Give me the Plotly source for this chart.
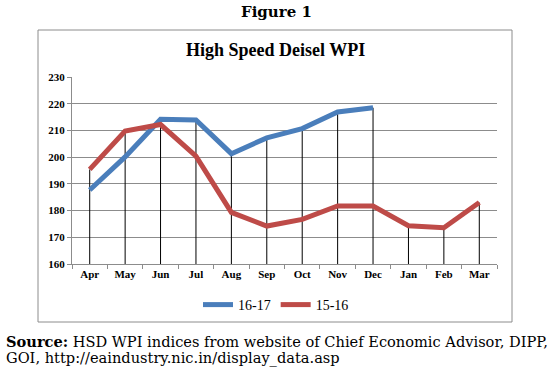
import plotly.graph_objects as go

months = ["Apr", "May", "Jun", "Jul", "Aug", "Sep", "Oct", "Nov", "Dec", "Jan", "Feb", "Mar"]
wpi_1617 = [187.7, 200.1, 214.2, 213.9, 201.3, 207.2, 210.7, 216.9, 218.5]
wpi_1516 = [195.4, 209.8, 212.2, 200.4, 179.3, 174.2, 176.7, 181.7, 181.7, 174.3, 173.6, 183.0]
y_ticks = [160, 170, 180, 190, 200, 210, 220, 230]

W, H = 550, 372
L, R, T, B = 72, 53, 77, 108
pw, ph = W - L - R, H - T - B

def px_x(p):
    return (p - L) / pw

def px_y(p):
    return (H - B - p) / ph

fig = go.Figure()

# drop lines from each point down to the axis
base = y_ticks[0]
for i, m in enumerate(months):
    vals = [wpi_1516[i]]
    if i < len(wpi_1617):
        vals.append(wpi_1617[i])
    fig.add_trace(go.Scatter(x=[m, m], y=[base, max(vals)], mode="lines",
                             line=dict(color="black", width=1),
                             showlegend=False, hoverinfo="skip"))

fig.add_trace(go.Scatter(x=months[:len(wpi_1617)], y=wpi_1617, mode="lines", name="16-17",
                         line=dict(color="#4A7EBB", width=5)))
fig.add_trace(go.Scatter(x=months, y=wpi_1516, mode="lines", name="15-16",
                         line=dict(color="#BE4B48", width=5)))

serif = "Liberation Serif, Times New Roman, serif"
tickfont = dict(family=serif, size=11, color="black", weight="bold")

fig.update_layout(
    width=W, height=H,
    margin=dict(l=L, r=R, t=T, b=B, pad=0),
    paper_bgcolor="white", plot_bgcolor="white",
    showlegend=True,
    legend=dict(orientation="h", x=px_x(276), xanchor="center", y=px_y(305), yanchor="middle",
                font=dict(family=serif, size=14, color="black"), itemwidth=30,
                bgcolor="rgba(0,0,0,0)", tracegroupgap=0),
    xaxis=dict(type="category", categoryorder="array", categoryarray=months,
               range=[-0.5, 11.5], showgrid=False, showline=True, linecolor="#8C8C8C",
               linewidth=1, ticks="outside", tickson="boundaries", ticklen=4,
               tickcolor="#8C8C8C", tickfont=tickfont, zeroline=False),
    yaxis=dict(range=[160, 230], tickvals=y_ticks, showgrid=True, gridcolor="#8C8C8C",
               gridwidth=1, showline=True, linecolor="#8C8C8C", linewidth=1,
               ticks="outside", ticklen=4, tickcolor="#8C8C8C",
               tickfont=tickfont, zeroline=False),
    font=dict(family=serif),
    shapes=[dict(type="rect", xref="paper", yref="paper",
                 x0=px_x(38), x1=px_x(512), y0=px_y(322), y1=px_y(30),
                 line=dict(color="#8C8C8C", width=1), layer="below")],
    annotations=[
        dict(text="<b>Figure 1</b>", xref="paper", yref="paper", x=px_x(276), y=px_y(12),
             xanchor="center", yanchor="middle", showarrow=False,
             font=dict(family="DejaVu Serif", size=15, color="black")),
        dict(text="<b>High Speed Deisel WPI</b>", xref="paper", yref="paper", x=px_x(275),
             y=px_y(50), xanchor="center", yanchor="middle", showarrow=False,
             font=dict(family=serif, size=18, color="black")),
        dict(text="<b>Source:</b> HSD WPI indices from website of Chief Economic Advisor, DIPP,",
             xref="paper", yref="paper", x=px_x(4), y=px_y(341.5), xanchor="left",
             yanchor="middle", showarrow=False, align="left",
             font=dict(family="DejaVu Serif", size=14.6, color="black")),
        dict(text="GOI, http://eaindustry.nic.in/display_data.asp",
             xref="paper", yref="paper", x=px_x(4), y=px_y(357.5), xanchor="left",
             yanchor="middle", showarrow=False, align="left",
             font=dict(family="DejaVu Serif", size=14.6, color="black")),
    ],
)

fig.write_html("out.html", config={"displayModeBar": False},
               post_script="document.body.style.margin='0';")
